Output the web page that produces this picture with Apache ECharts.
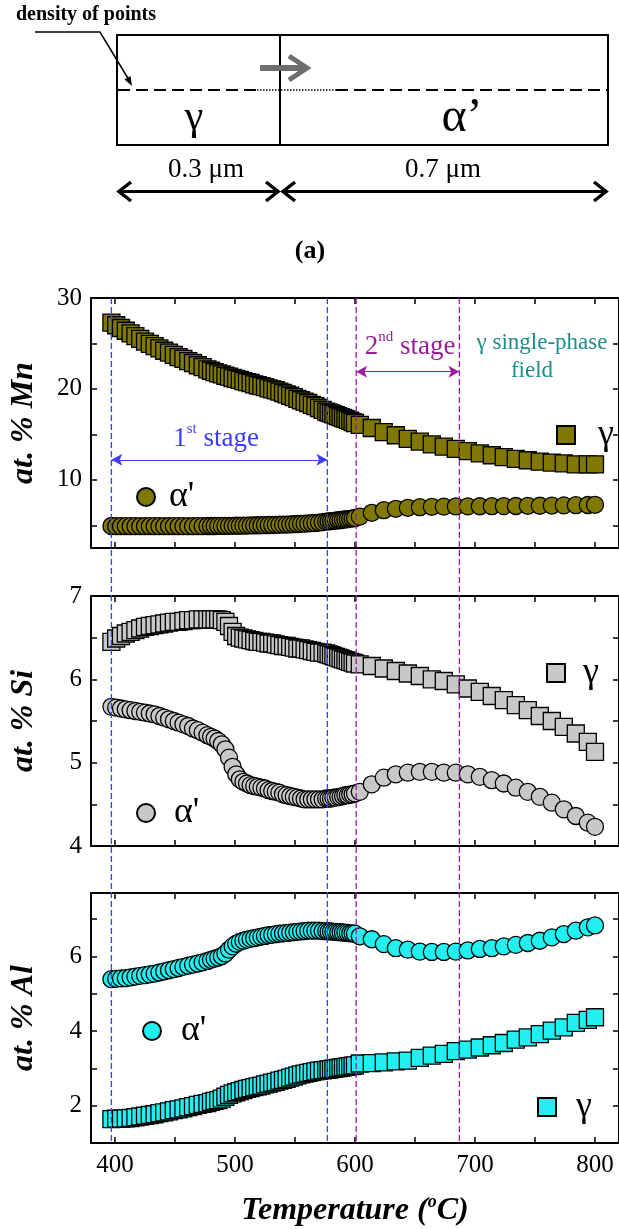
<!DOCTYPE html>
<html>
<head>
<meta charset="utf-8">
<script src="https://cdn.jsdelivr.net/npm/echarts@6/dist/echarts.min.js"></script>
<style>
  html, body { margin: 0; padding: 0; background: #fff; }
  #chart { width: 619px; height: 1229px; }
</style>
</head>
<body>
<div id="chart"></div>
<script>
// Temperatures (°C) at which the interface compositions were computed
const temps = [
  397, 401, 405, 409, 413, 417, 421, 425, 429, 433, 437, 441, 445, 449, 453, 457, 461, 465, 469, 473, 477,
  480, 483, 486, 489, 492, 495, 498, 501, 504, 507, 510, 513, 516, 519, 522, 525, 528, 531, 534, 537,
  540, 543, 546, 549, 552, 555, 558, 561, 564, 567, 570, 573, 576,
  578, 580, 582, 584, 586, 588, 590, 592, 594, 596, 598, 600,
  604, 614, 624, 634, 644, 654, 664, 674, 684, 694, 704, 714, 724, 734, 744, 754, 764, 774, 784, 794, 800
];

// at.% Mn
const mnGamma = [
  27.3, 27.0, 26.7, 26.4, 26.1, 25.8, 25.5, 25.2, 24.95, 24.7, 24.45, 24.2, 24.0, 23.75, 23.5, 23.3, 23.05, 22.85, 22.6, 22.4, 22.15,
  22.0, 21.85, 21.7, 21.6, 21.45, 21.35, 21.2, 21.1, 21.0, 20.85, 20.75, 20.65, 20.5, 20.4, 20.3, 20.2, 20.05, 19.95, 19.85, 19.7,
  19.55, 19.4, 19.25, 19.1, 18.9, 18.75, 18.6, 18.45, 18.25, 18.1, 17.9, 17.7, 17.5,
  17.4, 17.3, 17.2, 17.1, 17.0, 16.9, 16.8, 16.7, 16.6, 16.5, 16.35, 16.25,
  16.05, 15.7, 15.25, 14.9, 14.5, 14.2, 13.9, 13.65, 13.4, 13.15, 12.9, 12.7, 12.5, 12.3, 12.15, 12.0, 11.9, 11.8, 11.7, 11.7, 11.7
];
const mnAlpha = [
  4.92, 4.9, 4.9, 4.9, 4.9, 4.9, 4.9, 4.9, 4.9, 4.9, 4.9, 4.9, 4.9, 4.9, 4.9, 4.9, 4.9, 4.9, 4.91, 4.91, 4.92,
  4.92, 4.92, 4.93, 4.93, 4.93, 4.94, 4.94, 4.95, 4.95, 4.96, 4.97, 4.98, 4.99, 5.0, 5.01, 5.02, 5.03, 5.04, 5.05, 5.06,
  5.07, 5.08, 5.1, 5.12, 5.14, 5.16, 5.18, 5.2, 5.23, 5.26, 5.3, 5.35, 5.4,
  5.43, 5.46, 5.49, 5.52, 5.55, 5.58, 5.61, 5.64, 5.67, 5.71, 5.75, 5.8,
  5.95, 6.37, 6.66, 6.81, 6.92, 6.99, 7.03, 7.05, 7.07, 7.08, 7.09, 7.1, 7.11, 7.12, 7.14, 7.15, 7.17, 7.19, 7.21, 7.23, 7.25
];

// at.% Si
const siGamma = [
  6.45, 6.49, 6.52, 6.55, 6.57, 6.59, 6.61, 6.63, 6.64, 6.65, 6.66, 6.67, 6.68, 6.69, 6.69, 6.70, 6.71, 6.71, 6.72, 6.72, 6.72,
  6.72, 6.72, 6.72, 6.71, 6.69, 6.64, 6.57, 6.52, 6.50, 6.49, 6.48, 6.47, 6.46, 6.45, 6.45, 6.44, 6.43, 6.43, 6.42, 6.41,
  6.40, 6.40, 6.39, 6.38, 6.37, 6.37, 6.36, 6.35, 6.34, 6.33, 6.32, 6.32, 6.31,
  6.30, 6.29, 6.28, 6.27, 6.26, 6.25, 6.24, 6.23, 6.22, 6.21, 6.20, 6.19,
  6.18, 6.16, 6.13, 6.10, 6.07, 6.04, 6.00, 5.98, 5.94, 5.89, 5.85, 5.80, 5.75, 5.69, 5.63, 5.56, 5.50, 5.43, 5.35, 5.25, 5.13
];
const siAlpha = [
  5.67, 5.66, 5.65, 5.64, 5.63, 5.62, 5.61, 5.60, 5.59, 5.58, 5.56, 5.54, 5.52, 5.50, 5.48, 5.46, 5.44, 5.41, 5.39, 5.36, 5.33,
  5.31, 5.29, 5.26, 5.22, 5.16, 5.06, 4.95, 4.86, 4.80, 4.77, 4.75, 4.73, 4.72, 4.71, 4.70, 4.69, 4.67, 4.66, 4.65, 4.64,
  4.62, 4.61, 4.60, 4.59, 4.58, 4.57, 4.56, 4.56, 4.56, 4.56, 4.56, 4.56, 4.57,
  4.57, 4.57, 4.58, 4.58, 4.59, 4.59, 4.60, 4.61, 4.61, 4.62, 4.62, 4.63,
  4.65, 4.74, 4.82, 4.86, 4.88, 4.89, 4.89, 4.88, 4.88, 4.86, 4.83, 4.79, 4.75, 4.70, 4.65, 4.59, 4.52, 4.44, 4.36, 4.28, 4.23
];

// at.% Al
const alAlpha = [
  5.39, 5.40, 5.41, 5.42, 5.44, 5.46, 5.48, 5.50, 5.52, 5.54, 5.57, 5.60, 5.63, 5.66, 5.69, 5.72, 5.75, 5.78, 5.81, 5.84, 5.88,
  5.91, 5.94, 5.97, 6.01, 6.08, 6.18, 6.27, 6.34, 6.39, 6.42, 6.45, 6.47, 6.49, 6.51, 6.53, 6.55, 6.57, 6.58, 6.60, 6.61,
  6.62, 6.63, 6.64, 6.65, 6.66, 6.67, 6.68, 6.69, 6.69, 6.69, 6.69, 6.68, 6.68,
  6.67, 6.67, 6.66, 6.66, 6.65, 6.65, 6.64, 6.64, 6.63, 6.62, 6.62, 6.61,
  6.54, 6.46, 6.33, 6.22, 6.18, 6.13, 6.12, 6.12, 6.13, 6.16, 6.20, 6.22, 6.27, 6.31, 6.36, 6.42, 6.51, 6.60, 6.69, 6.78, 6.83
];
const alGamma = [
  1.64, 1.65, 1.65, 1.66, 1.67, 1.69, 1.71, 1.73, 1.75, 1.77, 1.80, 1.82, 1.85, 1.88, 1.90, 1.93, 1.96, 1.99, 2.02, 2.05, 2.07,
  2.10, 2.13, 2.15, 2.19, 2.24, 2.29, 2.33, 2.36, 2.39, 2.42, 2.45, 2.47, 2.50, 2.52, 2.54, 2.57, 2.59, 2.62, 2.64, 2.67,
  2.69, 2.72, 2.75, 2.78, 2.81, 2.84, 2.86, 2.88, 2.90, 2.92, 2.94, 2.95, 2.96,
  2.97, 2.98, 2.99, 3.00, 3.01, 3.02, 3.03, 3.04, 3.05, 3.06, 3.07, 3.08,
  3.13, 3.14, 3.16, 3.19, 3.21, 3.28, 3.34, 3.39, 3.46, 3.50, 3.56, 3.62, 3.68, 3.77, 3.83, 3.92, 4.01, 4.10, 4.22, 4.30, 4.37
];

// Axis ranges and tick values
const xRange = [380, 820];
const xTicks = [400, 450, 500, 550, 600, 650, 700, 750, 800];
const xLabels = [400, 500, 600, 700, 800];
const mnRange = [2.5, 30];
const mnTicks = [5, 10, 15, 20, 25, 30];
const mnLabels = [10, 20, 30];
const siRange = [4, 7];
const siTicks = [4, 4.5, 5, 5.5, 6, 6.5, 7];
const siLabels = [4, 5, 6, 7];
const alRange = [1, 7.7];
const alTicks = [2, 3, 4, 5, 6, 7];
const alLabels = [2, 4, 6];

// Stage boundaries (°C) and stage arrow levels (at.% Mn)
const stage1 = [397, 577];
const stage2 = [601, 687];
const stage1ArrowMn = 12.2;
const stage2ArrowMn = 21.9;

const SERIF = "'Liberation Serif', 'Times New Roman', serif";
const OLIVE = '#807800';
const GREY = '#c8c8c8';
const CYAN = '#22f0f0';
const BLUE = '#3c3cff';
const PURPLE = '#9a1e9a';
const TEAL = '#1e8c8c';

const chart = echarts.init(document.getElementById('chart'), null, { renderer: 'canvas' });

const gridTops = [298, 596, 893];
const grids = gridTops.map(t => ({ left: 91, right: 0, top: t, height: 250 }));

function xAxisFor(g, pos) {
  const bottom = pos === 'bottom';
  return {
    type: 'value', gridIndex: g, position: pos, min: xRange[0], max: xRange[1],
    axisLine: { show: true, onZero: false, lineStyle: { color: '#000', width: 2 } },
    axisTick: { show: true, inside: true, length: 6, customValues: xTicks, lineStyle: { color: '#000', width: 1.5 } },
    axisLabel: { show: bottom && g === 2, customValues: xLabels, fontFamily: SERIF, fontSize: 25, color: '#000', margin: 10 },
    splitLine: { show: false },
    name: bottom && g === 2 ? '{b|Temperature (}{s|o}{b|C)}' : '',
    nameLocation: 'middle', nameGap: 50,
    nameTextStyle: {
      rich: {
        b: { fontFamily: SERIF, fontSize: 32, fontWeight: 'bold', fontStyle: 'italic', color: '#000', lineHeight: 36 },
        s: { fontFamily: SERIF, fontSize: 18, fontWeight: 'bold', fontStyle: 'italic', color: '#000', verticalAlign: 'top', lineHeight: 36 }
      }
    }
  };
}

function yAxisFor(g, pos, range, ticks, labels, title) {
  const left = pos === 'left';
  return {
    type: 'value', gridIndex: g, position: pos, min: range[0], max: range[1],
    axisLine: { show: true, onZero: false, lineStyle: { color: '#000', width: 2 } },
    axisTick: { show: true, inside: true, length: 6, customValues: ticks, lineStyle: { color: '#000', width: 1.5 } },
    axisLabel: { show: left, customValues: labels, fontFamily: SERIF, fontSize: 25, color: '#000', margin: 9 },
    splitLine: { show: false },
    name: left ? title : '',
    nameLocation: 'middle', nameGap: 51,
    nameTextStyle: { fontFamily: SERIF, fontSize: 32, fontWeight: 'bold', fontStyle: 'italic', color: '#000' }
  };
}

function scatter(name, values, g, symbol, color, extra) {
  return Object.assign({
    type: 'scatter', name: name, xAxisIndex: g, yAxisIndex: g,
    symbol: symbol, symbolSize: 17,
    itemStyle: { color: color, borderColor: '#000', borderWidth: 1.3, opacity: 1 },
    emphasis: { disabled: true },
    animation: false,
    data: temps.map((t, i) => [t, values[i]])
  }, extra || {});
}

function stageArrow(range, level, color) {
  return {
    silent: true, symbol: ['arrow', 'arrow'], symbolSize: [9, 11],
    label: { show: false },
    lineStyle: { color: color, width: 1.2, type: 'solid' },
    data: [[{ coord: [range[0], level] }, { coord: [range[1], level] }]]
  };
}

function legendFor(name, icon, left, top, pad) {
  return {
    data: [{ name: name, icon: icon }], left: left, top: top, padding: 0,
    itemWidth: 18, itemHeight: 18, selectedMode: false,
    formatter: n => n.split(' ')[0],
    textStyle: { fontFamily: SERIF, fontSize: 36, color: '#000', lineHeight: 40, padding: [0, 0, 0, pad] }
  };
}

const option = {
  backgroundColor: '#fff',
  animation: false,
  grid: grids,
  xAxis: [
    xAxisFor(0, 'bottom'), xAxisFor(1, 'bottom'), xAxisFor(2, 'bottom'),
    xAxisFor(0, 'top'), xAxisFor(1, 'top'), xAxisFor(2, 'top')
  ],
  yAxis: [
    yAxisFor(0, 'left', mnRange, mnTicks, mnLabels, 'at. % Mn'),
    yAxisFor(1, 'left', siRange, siTicks, siLabels, 'at. % Si'),
    yAxisFor(2, 'left', alRange, alTicks, alLabels, 'at. % Al'),
    yAxisFor(0, 'right', mnRange, mnTicks, mnLabels, ''),
    yAxisFor(1, 'right', siRange, siTicks, siLabels, ''),
    yAxisFor(2, 'right', alRange, alTicks, alLabels, '')
  ],
  legend: [
    legendFor("γ Mn", 'rect', 556, 415, 18),
    legendFor("α' Mn", 'circle', 136, 477, 9),
    legendFor("γ Si", 'rect', 546, 653, 13),
    legendFor("α' Si", 'circle', 136, 793, 14),
    legendFor("α' Al", 'circle', 142, 1011, 15),
    legendFor("γ Al", 'rect', 537, 1087, 15)
  ],
  series: [
    scatter("γ Mn", mnGamma, 0, 'rect', OLIVE, { markLine: stageArrow(stage2, stage2ArrowMn, PURPLE) }),
    scatter("α' Mn", mnAlpha, 0, 'circle', OLIVE, { markLine: stageArrow(stage1, stage1ArrowMn, BLUE) }),
    scatter("γ Si", siGamma, 1, 'rect', GREY),
    scatter("α' Si", siAlpha, 1, 'circle', GREY),
    scatter("α' Al", alAlpha, 2, 'circle', CYAN),
    scatter("γ Al", alGamma, 2, 'rect', CYAN)
  ]
};

chart.setOption(option);

// Schematic of the γ / α' cell above the plots
const schematic = [
  { type: 'rect', shape: { x: 117, y: 35, width: 491, height: 110 }, style: { fill: 'none', stroke: '#000', lineWidth: 2 } },
  { type: 'line', shape: { x1: 280, y1: 35, x2: 280, y2: 145 }, style: { stroke: '#000', lineWidth: 2 } },
  { type: 'line', shape: { x1: 118, y1: 90, x2: 257, y2: 90 }, style: { stroke: '#000', lineWidth: 2, lineDash: [12, 6] } },
  { type: 'line', shape: { x1: 257, y1: 90, x2: 336, y2: 90 }, style: { stroke: '#000', lineWidth: 1.5, lineDash: [1.5, 1.5] } },
  { type: 'line', shape: { x1: 336, y1: 90, x2: 607, y2: 90 }, style: { stroke: '#000', lineWidth: 2, lineDash: [12, 6] } },
  { type: 'line', shape: { x1: 260, y1: 68, x2: 304, y2: 68 }, style: { stroke: '#6e6e6e', lineWidth: 6 } },
  { type: 'polyline', shape: { points: [[289, 56], [307, 68], [289, 80]] }, style: { stroke: '#6e6e6e', lineWidth: 5, fill: 'none' } },
  { type: 'polyline', shape: { points: [[35, 32], [100, 32], [129, 80]] }, style: { stroke: '#000', lineWidth: 1.5, fill: 'none' } },
  { type: 'polygon', shape: { points: [[132, 86], [124.5, 79.5], [130.5, 76]] }, style: { fill: '#000' } },
  { type: 'text', x: 16, y: 15, style: { text: 'density of points', fontFamily: SERIF, fontSize: 20, fontWeight: 'bold', fill: '#000', align: 'left', verticalAlign: 'middle' } },
  { type: 'text', x: 194, y: 118, style: { text: 'γ', fontFamily: SERIF, fontSize: 42, fill: '#000', align: 'center', verticalAlign: 'middle' } },
  { type: 'text', x: 462, y: 118, style: { text: 'α’', fontFamily: SERIF, fontSize: 48, fill: '#000', align: 'center', verticalAlign: 'middle' } },
  { type: 'text', x: 206, y: 170, style: { text: '0.3 μm', fontFamily: SERIF, fontSize: 27, fill: '#000', align: 'center', verticalAlign: 'middle' } },
  { type: 'text', x: 443, y: 170, style: { text: '0.7 μm', fontFamily: SERIF, fontSize: 27, fill: '#000', align: 'center', verticalAlign: 'middle' } },
  { type: 'line', shape: { x1: 119, y1: 191.5, x2: 278, y2: 191.5 }, style: { stroke: '#000', lineWidth: 3 } },
  { type: 'polyline', shape: { points: [[131, 182], [119, 191.5], [131, 201]] }, style: { stroke: '#000', lineWidth: 3.5, fill: 'none' } },
  { type: 'polyline', shape: { points: [[266, 182], [278, 191.5], [266, 201]] }, style: { stroke: '#000', lineWidth: 3.5, fill: 'none' } },
  { type: 'line', shape: { x1: 283, y1: 191.5, x2: 606, y2: 191.5 }, style: { stroke: '#000', lineWidth: 3 } },
  { type: 'polyline', shape: { points: [[295, 182], [283, 191.5], [295, 201]] }, style: { stroke: '#000', lineWidth: 3.5, fill: 'none' } },
  { type: 'polyline', shape: { points: [[594, 182], [606, 191.5], [594, 201]] }, style: { stroke: '#000', lineWidth: 3.5, fill: 'none' } },
  { type: 'text', x: 310, y: 251, style: { text: '(a)', fontFamily: SERIF, fontSize: 26, fontWeight: 'bold', fill: '#000', align: 'center', verticalAlign: 'middle' } }
];

// Stage annotations in the Mn panel
const supRich = color => ({
  n: { fontFamily: SERIF, fontSize: 27, fill: color, lineHeight: 30, verticalAlign: 'bottom' },
  s: { fontFamily: SERIF, fontSize: 15, fill: color, lineHeight: 30, verticalAlign: 'top' }
});
const annotations = [
  { type: 'text', x: 216, y: 437, z: 20, style: { text: '{n|1}{s|st}{n| stage}', rich: supRich(BLUE), align: 'center', verticalAlign: 'middle' } },
  { type: 'text', x: 410, y: 345, z: 20, style: { text: '{n|2}{s|nd}{n| stage}', rich: supRich(PURPLE), align: 'center', verticalAlign: 'middle' } },
  { type: 'text', x: 542, y: 343, z: 20, style: { text: 'γ single-phase', fontFamily: SERIF, fontSize: 23, fill: TEAL, align: 'center', verticalAlign: 'middle' } },
  { type: 'text', x: 532, y: 371, z: 20, style: { text: 'field', fontFamily: SERIF, fontSize: 23, fill: TEAL, align: 'center', verticalAlign: 'middle' } }
];

// Dashed stage boundaries running through all three panels
const yTop = chart.convertToPixel({ yAxisIndex: 0 }, mnRange[1]);
const yBottom = chart.convertToPixel({ yAxisIndex: 2 }, alRange[0]);
const boundaries = stage1.map(t => [t, BLUE]).concat(stage2.map(t => [t, PURPLE])).map(([t, c]) => {
  const x = chart.convertToPixel({ xAxisIndex: 0 }, t);
  return { type: 'line', z: 20, silent: true, shape: { x1: x, y1: yTop, x2: x, y2: yBottom },
           style: { stroke: c, lineWidth: 1.3, lineDash: [6, 3] } };
});

chart.setOption({ graphic: schematic.concat(annotations, boundaries) });
</script>
</body>
</html>
